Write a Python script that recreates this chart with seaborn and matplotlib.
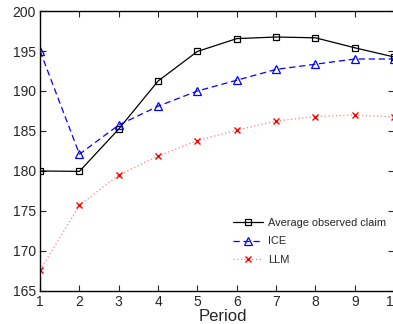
import seaborn as sns
import pandas as pd
import matplotlib.pyplot as plt

periods = [1, 2, 3, 4, 5, 6, 7, 8, 9, 10]
avg_claim = [180.0, 179.95, 185.25, 191.25, 194.95, 196.55, 196.75, 196.65, 195.4, 194.25]
ice = [195.0, 182.1, 185.75, 188.1, 190.0, 191.35, 192.7, 193.35, 194.0, 194.0]
llm = [167.6, 175.7, 179.5, 181.85, 183.8, 185.1, 186.25, 186.8, 187.0, 186.75]

df = pd.DataFrame({"Period": periods, "avg": avg_claim, "ice": ice, "llm": llm})

sns.set_style("ticks")
plt.rcParams['font.family'] = ['Liberation Sans', 'DejaVu Sans']

fig = plt.figure(figsize=(3.93, 3.24), dpi=100)
ax = fig.add_axes([0.102, 0.102, 0.901, 0.864])

sns.lineplot(data=df, x="Period", y="avg", ax=ax, color="black", lw=0.9,
             marker="s", markersize=4.6, markerfacecolor="none",
             markeredgecolor="black", markeredgewidth=0.9,
             label="Average observed claim")
sns.lineplot(data=df, x="Period", y="ice", ax=ax, color="blue", lw=0.9,
             linestyle=(0, (5, 3)), marker="^", markersize=6.2,
             markerfacecolor="none", markeredgecolor="blue",
             markeredgewidth=0.9, label="ICE")
sns.lineplot(data=df, x="Period", y="llm", ax=ax, color="#ff8080", lw=0.9,
             linestyle=(0, (1, 2)), marker="x", markersize=4.2,
             markeredgecolor="red", markeredgewidth=1.0, label="LLM")

ax.set_xlim(1, 10)
ax.set_ylim(165, 200)
ax.set_xticks(periods)
ax.set_yticks(range(165, 201, 5))
ax.tick_params(direction="in", top=True, right=True, labelsize=10, length=4,
               width=0.8, pad=3)
for s in ax.spines.values():
    s.set_linewidth(1.0)
    s.set_color("black")
ax.set_xlabel("Period", fontsize=12, labelpad=1)
ax.xaxis.set_label_coords(0.517, -0.065)
ax.set_ylabel("")

ax.legend(loc="upper left", bbox_to_anchor=(0.544, 0.262), frameon=False,
          fontsize=7.9, handlelength=2.8, handletextpad=0.4, labelspacing=0.8,
          borderaxespad=0, borderpad=0)

fig.savefig("out.png", dpi=100)
